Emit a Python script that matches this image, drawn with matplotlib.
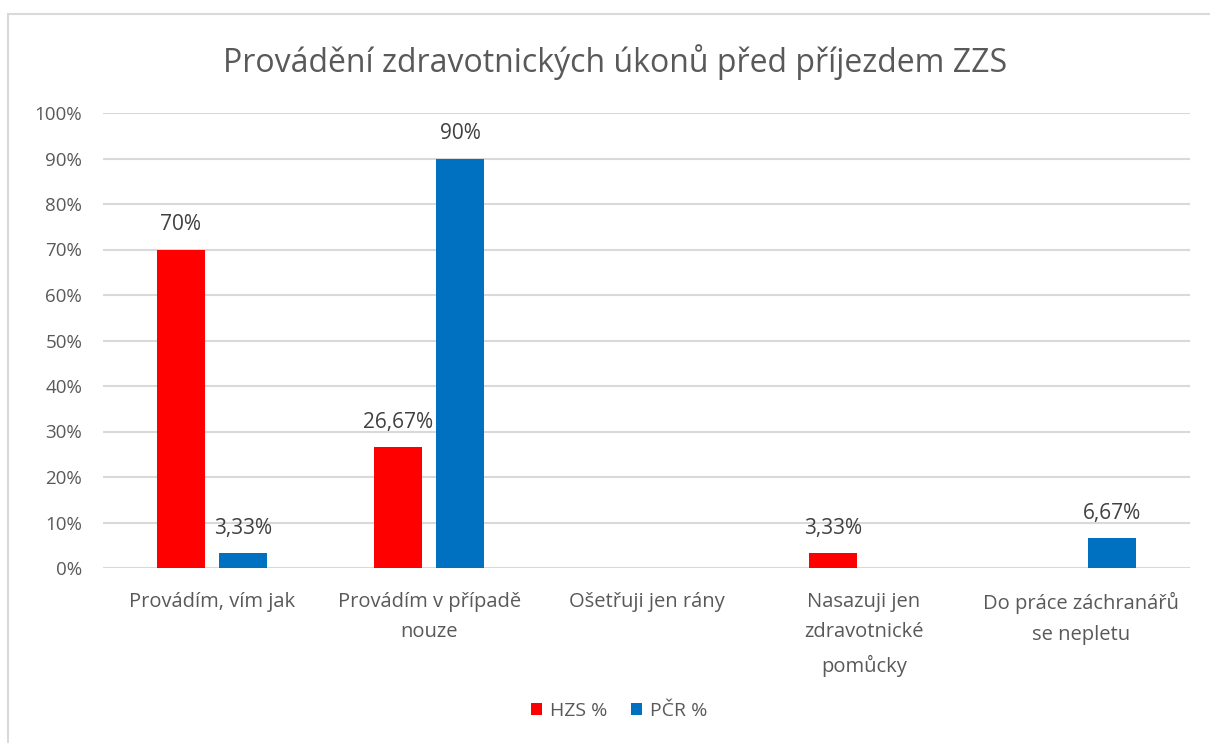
import matplotlib.pyplot as plt
import matplotlib.patches as mpatches
import numpy as np

plt.rcParams['font.family'] = ['Open Sans', 'DejaVu Sans']

categories = ["Provádím, vím jak", "Provádím v případě\nnouze", "Ošetřuji jen rány",
              "Nasazuji jen\nzdravotnické\npomůcky", "Do práce záchranářů\nse nepletu"]
hzs = [70, 26.67, 0, 3.33, 0]
pcr = [3.33, 90, 0, 0, 6.67]
series_names = ["HZS %", "PČR %"]
yticks = [0, 10, 20, 30, 40, 50, 60, 70, 80, 90, 100]

red = '#ff0000'
blue = '#0070c0'
grey_txt = '#595959'

def fmt(v):
    if float(v).is_integer():
        return "%d%%" % v
    return ("%.2f%%" % v).replace('.', ',')

fig = plt.figure(figsize=(12.1, 7.43), dpi=100)
# chart border (only left/top visible in the crop)
fig.patches.append(mpatches.Rectangle((8 / 1210, -0.05), 1.1, 1 - 14 / 743 + 0.05,
                                      transform=fig.transFigure, fill=False,
                                      edgecolor='#d9d9d9', linewidth=1.5))

ax = fig.add_axes([103 / 1210, 1 - 568 / 743, (1190 - 103) / 1210, (568 - 113) / 743])
x = np.arange(len(categories))
w = 0.22
off = 0.143
b1 = ax.bar(x - off, hzs, w, color=red, label=series_names[0], zorder=3)
b2 = ax.bar(x + off, pcr, w, color=blue, label=series_names[1], zorder=3)

for bars, vals in ((b1, hzs), (b2, pcr)):
    for b, v in zip(bars, vals):
        if v > 0:
            ax.text(b.get_x() + b.get_width() / 2, v + 5.4, fmt(v), ha='center', va='center',
                    fontsize=15, color='#404040')

ax.set_xlim(-0.5, len(categories) - 0.5)
ax.set_ylim(0, 100)
ax.set_yticks(yticks)
ax.set_yticklabels(["%d%%" % t for t in yticks], fontsize=13.5)
ax.set_xticks(x)
ax.set_xticklabels(categories, linespacing=1.72, va='top', fontsize=14.5)
ax.tick_params(axis='both', length=0, colors=grey_txt)
ax.tick_params(axis='x', pad=17)
ax.tick_params(axis='y', pad=15)
ax.grid(axis='y', color='#d9d9d9', linewidth=1.5, zorder=0)
for s in ax.spines.values():
    s.set_visible(False)

fig.text(615 / 1210, 1 - 62 / 743, "Provádění zdravotnických úkonů před příjezdem ZZS",
         ha='center', va='center', fontsize=23, color=grey_txt)

fig.legend(handles=[b1, b2], loc='center', bbox_to_anchor=(619 / 1210, 1 - 711 / 743),
           ncol=2, frameon=False, fontsize=14, labelcolor=grey_txt,
           handlelength=0.6, handleheight=0.6, handletextpad=0.4, columnspacing=1.2)

fig.savefig('out.png', dpi=100)
